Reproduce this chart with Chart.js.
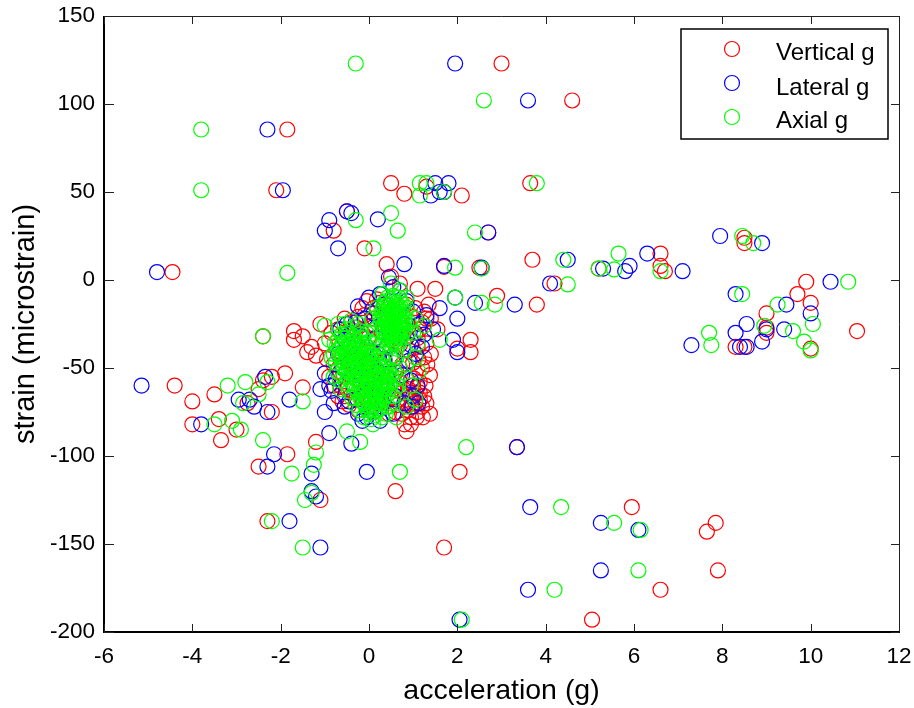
<!DOCTYPE html>
<html><head><meta charset="utf-8">
<style>html,body{margin:0;padding:0;background:#fff}#w{width:914px;height:708px;position:relative}</style>
<script src="https://cdn.jsdelivr.net/npm/chart.js@4"></script>
</head><body><div id="w"><canvas id="c" width="914" height="708"></canvas></div>
<script>
const xTicks=[-6,-4,-2,0,2,4,6,8,10,12];
const yTicks=[150,100,50,0,-50,-100,-150,-200];
const seriesNames=['Vertical g','Lateral g','Axial g'];
const seriesColors=['#ff0000','#0000ff','#00ff00'];
const verticalOuter=[[3,123],[4.6,102],[-1.85,85.5],[0.5,55],[3.65,55],[-2.1,51],[0.8,49],[2.1,48],[1.3,53],[1.7,50],[-0.5,39],[-0.8,28],[-0.1,18],[2.7,27],[2.5,7],[3.7,11.5],[3.8,-14],[2.9,-9],[1.7,7.5],[-4.45,4.5],[0.4,9],[0.5,2],[0.7,-2],[4.2,-2],[5.2,6.5],[6.6,15],[6.6,8],[6.7,5],[8.5,24],[8.5,21],[9.9,-1],[9.7,-8],[9,-19],[10,-13],[10,-39],[9,-27],[11.05,-29],[8.3,-38],[8.5,-38],[9,-30],[-4.4,-60],[-4,-69],[-4,-82],[-3.5,-65],[-3.4,-79],[-3.35,-91],[-3,-85],[-2.75,-70],[-2.4,-32],[-2.5,-62],[-2.4,-57],[-2.2,-75],[-2.2,-55],[-1.9,-53],[-1.85,-99],[-2.5,-106],[-2.3,-137],[-1.5,-61],[-1.7,-29],[-1.7,-34],[-1.5,-32],[-1.4,-41],[-1.3,-38],[-1.2,-43],[-1.1,-25],[-1.2,-92],[-1.1,-125],[0.6,-120],[2.05,-109],[1.7,-152],[3.35,-95],[5.95,-129],[5.05,-193],[6.6,-176],[7.65,-143],[7.85,-138],[7.9,-165],[2,-39],[2.3,-34],[2.3,-41],[1.5,-5],[1.1,-5],[1.35,-14],[1.3,-22],[1.55,-28]];
const verticalCentre=[[-0.9,-55],[-0.8,-60],[-0.7,-66],[-0.6,-69],[-0.5,-62],[-0.45,-71],[-0.3,-68],[-0.25,-74],[0.85,-86],[0.8,-82],[0.95,-78],[1.1,-75],[1.2,-72],[1.15,-68],[1.25,-66],[1.05,-64],[0.9,-62],[0.75,-64],[0.65,-68],[0.55,-62],[0.7,-58],[0.85,-56],[1,-60],[1.15,-58],[1.38,-54],[1.2,-50],[0.95,-72],[0.75,-76],[0.6,-75],[0.45,-76],[1.05,-70],[0.85,-68],[0.65,-71],[0.5,-67],[0.95,-66],[1.1,-61],[0.4,-60],[1.38,-76],[1.08,-78],[0.95,-82],[1.15,-64],[1.02,-56],[0.88,-74],[1.22,-78],[1.3,-70],[1.4,-42],[1.3,-36],[1.1,-38],[1.05,-30],[0.9,-26],[1.2,-24],[1.4,-22],[1.25,-18],[1.05,-16],[0.85,-14],[-0.05,-12],[0.1,-16],[0.25,-13],[-0.1,-20],[-0.25,-21],[-0.4,-24],[-0.55,-22],[-0.7,-28],[-0.85,-30],[-1,-36],[-0.15,-30],[0.05,-26],[0.3,-30],[0.5,-34],[0.7,-37],[0.9,-40],[0.55,-43],[0.35,-46],[0.1,-42],[-0.1,-50],[-0.35,-46],[-0.6,-42],[-0.8,-48],[0.75,-48],[1,-47],[0.15,-58],[-0.1,-63],[-0.2,-57],[0.2,-70],[-0.65,-52],[-0.95,-45],[1.15,-28],[0.98,-21],[1.1,-33],[-0.65,-60],[-0.55,-66],[-0.15,-16],[-0.3,-27],[0.12,-22],[-0.02,-33],[0.18,-11],[1.25,-44],[1.32,-48],[1.12,-45],[0.62,-52],[1.28,-60]];
const lateralOuter=[[1.95,123],[3.6,102],[-2.3,85.5],[-1.95,51],[1.5,55],[1.8,55],[1.4,48],[1.6,50],[1.7,50],[-0.5,39],[-0.4,38],[-0.9,34],[-1,28],[-0.7,18],[0.2,34.5],[2.7,27],[2.55,7],[1.7,8],[1.95,-10],[-4.8,4.5],[0.8,9],[0.45,1.5],[3.3,-14],[4.1,-2],[4.5,11.5],[5.3,6.5],[5.8,5],[5.9,8],[6.3,15],[7.1,5],[7.3,-37],[7.95,25],[8.3,-8],[8.9,21],[8.3,-30],[8.4,-38],[8.55,-38],[8.55,-25],[8.9,-35],[9,-28],[9.4,-28],[9.45,-14],[10,-19],[10.45,-1],[-5.15,-60],[-3.8,-82],[-2.95,-68],[-2.7,-68],[-2.6,-72],[-2.35,-55],[-2.3,-75],[-2.15,-99],[-2.3,-106],[-1.8,-68],[-1.8,-137],[-1.3,-110],[-1.3,-120],[-1.2,-123],[-1.1,-152],[-1,-75],[-0.9,-87],[-0.4,-93],[-0.05,-109],[3.35,-95],[3.65,-129],[3.6,-176],[5.25,-138],[5.25,-165],[6.1,-142],[2.05,-193],[2,-22],[2,-41],[1.6,-16],[1.9,-34],[2.4,-13]];
const lateralCentre=[[-1,-53],[-0.9,-60],[-0.85,-63],[-0.75,-56],[-0.6,-50],[-0.7,-42],[-0.55,-34],[-0.5,-25],[-0.3,-24],[-0.2,-32],[-0.1,-22],[0.1,-19],[0.25,-8],[0.35,-14],[0.55,-4],[0.7,-6],[0.85,-12],[1,-18],[1.15,-25],[1.25,-31],[1.2,-38],[1.05,-42],[0.9,-46],[0.75,-54],[0.95,-57],[1.1,-60],[0.6,-66],[0.4,-62],[0.3,-70],[0.1,-75],[-0.05,-78],[-0.15,-80],[-0.25,-76],[-0.45,-69],[-0.55,-72],[-0.35,-60],[-0.15,-55],[0,-47],[0.2,-42],[0.4,-38],[0.6,-32],[0.15,-33],[-0.05,-38],[-0.3,-42],[-0.45,-47],[0.55,-45],[0.7,-27],[0.85,-33],[-0.8,-70],[0.8,-70],[0.25,-80],[0.4,-55],[0.05,-62],[0.95,-37],[1.3,-20],[1.45,-28],[0.3,-25],[0.5,-18],[-0.25,-15],[0,-10],[-1.1,-62],[-0.65,-28],[-0.4,-30],[0.2,-52],[-0.1,-66],[0.55,-76],[0.05,-72],[0.18,-66],[-0.02,-56],[0.28,-60],[-0.28,-50],[-0.42,-38],[0.45,-28],[0.62,-20],[0.35,-45],[1,-66],[1.12,-70],[0.98,-72]];
const axialOuter=[[-0.3,123],[2.6,102],[-3.8,85.5],[-3.8,51],[1.15,55],[1.3,55],[3.8,55],[1.15,48],[1.7,50],[0.5,38],[0.1,18],[0.65,28],[-0.3,34],[2.4,27],[2.55,6.5],[-1.85,4],[1.95,7],[1.95,-10],[2.55,-13],[2.85,-14],[4.4,11.5],[4.5,-2.5],[5.2,6.5],[5.55,6],[5.65,15],[6.6,5],[8.45,25],[8.7,21],[8.45,-8],[7.7,-30],[7.75,-37],[9.25,-14],[9.85,-35],[10,-40],[10.05,-25],[10.85,-1],[9.6,-29],[8.95,-26],[-3.2,-60],[-3.5,-82],[-3.1,-80],[-2.9,-85],[-2.8,-58],[-2.85,-70],[-2.5,-65],[-2.3,-58],[-2.4,-32],[-2.4,-91],[-2.2,-137],[-1.75,-110],[-1.5,-152],[-1.45,-125],[-1.3,-121],[-1.25,-105],[-1.2,-98],[-1.5,-69],[-0.5,-86],[-0.2,-92],[0.7,-109],[2.2,-95],[4.35,-129],[4.2,-176],[5.55,-138],[6.1,-165],[6.15,-142],[2.1,-193],[1.6,-34],[1.1,-36],[1.05,-22],[1.25,-26],[1,-30],[-1,-26],[-0.9,-34],[-0.85,-44],[-0.8,-55],[-0.65,-62],[-0.7,-25],[1.05,-44],[1.12,-52],[0.95,-60],[1.05,-68],[0.85,-72],[0.85,-48],[0.62,-78],[0.78,-40],[0.7,-6],[0.5,-2],[0.85,-10],[0.3,-8]];
const axialRightLobe=[[0.38,-12],[0.5,-11],[0.62,-13],[0.72,-12],[0.32,-15],[0.44,-14],[0.56,-16],[0.66,-15],[0.78,-14],[0.28,-18],[0.4,-17],[0.52,-19],[0.6,-18],[0.7,-17],[0.82,-19],[0.25,-21],[0.36,-20],[0.47,-22],[0.58,-21],[0.68,-20],[0.8,-22],[0.27,-24],[0.38,-23],[0.5,-25],[0.6,-24],[0.72,-23],[0.84,-25],[0.3,-27],[0.42,-26],[0.54,-28],[0.64,-27],[0.76,-26],[0.33,-30],[0.45,-29],[0.55,-31],[0.67,-30],[0.78,-29],[0.36,-33],[0.48,-32],[0.6,-34],[0.72,-33],[0.42,-36],[0.55,-35],[0.66,-37],[0.42,-10],[0.55,-9],[0.68,-10],[0.35,-13],[0.48,-16],[0.6,-15],[0.74,-16],[0.31,-19],[0.43,-20],[0.55,-18],[0.65,-19],[0.76,-20],[0.3,-22],[0.42,-23],[0.53,-23],[0.64,-22],[0.75,-24],[0.33,-25],[0.46,-27],[0.57,-26],[0.7,-25],[0.82,-28],[0.36,-28],[0.5,-30],[0.62,-29],[0.72,-28],[0.4,-31],[0.52,-33],[0.65,-32],[0.75,-31],[0.45,-34],[0.58,-36],[0.7,-35],[0.5,-38],[0.62,-39]];
const axialLeftLobe=[[-0.5,-28],[-0.35,-27],[-0.2,-29],[-0.62,-31],[-0.48,-30],[-0.34,-32],[-0.2,-31],[-0.06,-30],[-0.7,-34],[-0.55,-33],[-0.42,-35],[-0.28,-34],[-0.14,-33],[0,-35],[-0.72,-37],[-0.6,-36],[-0.46,-38],[-0.32,-37],[-0.18,-36],[-0.04,-38],[-0.7,-40],[-0.56,-39],[-0.42,-41],[-0.3,-40],[-0.16,-39],[0,-41],[-0.68,-43],[-0.52,-42],[-0.4,-44],[-0.25,-43],[-0.1,-42],[0.04,-44],[-0.62,-46],[-0.5,-45],[-0.36,-47],[-0.22,-46],[-0.08,-45],[0.08,-47],[0.2,-46],[-0.58,-49],[-0.44,-48],[-0.3,-50],[-0.16,-49],[-0.02,-48],[-0.65,-38],[-0.52,-36],[-0.38,-33],[-0.24,-37],[-0.1,-36],[-0.63,-42],[-0.47,-41],[-0.35,-39],[-0.2,-42],[-0.05,-40],[-0.6,-44],[-0.45,-44],[-0.3,-45],[-0.15,-45],[-0.02,-44],[0.12,-43],[-0.55,-47],[-0.4,-49],[-0.26,-48],[-0.12,-47],[0.03,-49],[0.15,-41]];
const axialBottom=[[0.12,-49],[0.26,-48],[0.4,-50],[-0.52,-52],[-0.38,-51],[-0.24,-53],[-0.1,-52],[0.04,-51],[0.18,-53],[0.32,-52],[0.46,-51],[-0.46,-55],[-0.32,-54],[-0.18,-56],[-0.04,-55],[0.1,-54],[0.24,-56],[0.38,-55],[0.5,-54],[-0.4,-58],[-0.26,-57],[-0.12,-59],[0.02,-58],[0.16,-57],[0.3,-59],[0.42,-58],[0.54,-57],[-0.32,-61],[-0.18,-60],[-0.04,-62],[0.1,-61],[0.24,-60],[0.36,-62],[0.48,-61],[-0.26,-64],[-0.12,-63],[0.02,-65],[0.16,-64],[0.3,-63],[0.42,-65],[-0.2,-67],[-0.06,-66],[0.08,-68],[0.22,-67],[0.36,-66],[-0.12,-70],[0.02,-69],[0.14,-71],[0.28,-70],[-0.06,-73],[0.08,-72],[0.2,-74],[0,-76],[0.12,-75],[0.05,-79],[0.32,-46],[0.05,-53],[0.2,-51],[0.35,-49],[-0.45,-52],[-0.3,-56],[-0.15,-54],[0,-57],[0.14,-56],[0.28,-54],[0.44,-55],[-0.35,-59],[-0.22,-61],[-0.08,-57],[0.07,-60],[0.2,-62],[0.33,-57],[0.47,-59],[-0.28,-62],[-0.14,-65],[0,-60],[0.13,-66],[0.26,-65],[0.39,-60],[-0.16,-69],[-0.02,-67],[0.11,-63],[0.24,-69],[0.32,-68],[-0.08,-71],[0.05,-74],[0.17,-69],[0.25,-73],[-0.02,-74],[0.14,-77],[0.09,-82]];
const axialWider=[[-0.75,-47],[-0.8,-42],[-0.78,-36],[-0.72,-52],[-0.66,-57],[-0.58,-55],[-0.52,-59],[-0.45,-63],[-0.38,-67],[-0.3,-71],[-0.22,-74],[-0.12,-78],[0.58,-52],[0.63,-56],[0.6,-62],[0.55,-66],[0.52,-70],[0.44,-72],[0.38,-76],[0.3,-78],[0.66,-60],[0.7,-50],[0.62,-44],[0.48,-44],[0.36,-42],[0.1,-36],[0.15,-28],[0.08,-22],[0.18,-16],[-0.55,-25],[-0.4,-23],[-0.25,-25],[0.88,-30],[0.9,-24],[0.86,-16],[0.2,-38],[0.3,-37]];
const verticalPts=verticalOuter.concat(verticalCentre);
const lateralPts=lateralOuter.concat(lateralCentre);
const axialPts=axialOuter.concat(axialRightLobe,axialLeftLobe,axialBottom,axialWider);
const toPts=a=>a.map(p=>({x:p[0],y:p[1]}));
const allSeries=[verticalPts,lateralPts,axialPts];
const FONT='"Liberation Sans", Arial, sans-serif';
const frame={id:'frame',afterDraw(ch){
 const {ctx,chartArea:a,scales:{x,y}}=ch;ctx.save();
 ctx.strokeStyle='#222';ctx.lineWidth=1;ctx.beginPath();
 ctx.moveTo(a.left,a.top+.5);ctx.lineTo(a.right+.5,a.top+.5);ctx.lineTo(a.right+.5,a.bottom);ctx.stroke();
 ctx.strokeStyle='#000';ctx.lineWidth=2;ctx.beginPath();ctx.moveTo(a.left,a.top);ctx.lineTo(a.left,a.bottom);ctx.lineTo(a.right+1,a.bottom);ctx.stroke();
 ctx.strokeStyle='#222';ctx.lineWidth=1;ctx.beginPath();
 xTicks.forEach(t=>{const p=Math.round(x.getPixelForValue(t))+.5;ctx.moveTo(p,a.bottom);ctx.lineTo(p,a.bottom-8);ctx.moveTo(p,a.top);ctx.lineTo(p,a.top+8);});
 yTicks.forEach(t=>{const p=Math.round(y.getPixelForValue(t))+.5;ctx.moveTo(a.left,p);ctx.lineTo(a.left+10,p);ctx.moveTo(a.right,p);ctx.lineTo(a.right-8,p);});
 ctx.stroke();
 const L=681,T=29,R=888,B=139;
 ctx.fillStyle='#fff';ctx.fillRect(L,T,R-L,B-T);
 ctx.strokeStyle='#000';ctx.lineWidth=1.5;ctx.strokeRect(L,T,R-L,B-T);
 ctx.font='24px '+FONT;ctx.textBaseline='alphabetic';ctx.textAlign='left';
 const my=[49,83,117],ty=[60,95,128];
 ch.data.datasets.forEach((d,i)=>{
  ctx.strokeStyle=d.borderColor;ctx.lineWidth=1.2;ctx.beginPath();ctx.arc(732,my[i],7.5,0,Math.PI*2);ctx.stroke();
  ctx.fillStyle='#000';ctx.fillText(d.label,776,ty[i]);
 });
 ctx.restore();
}};
new Chart(document.getElementById('c'),{
 type:'scatter',
 data:{datasets:allSeries.map((s,i)=>({label:seriesNames[i],data:toPts(s),borderColor:seriesColors[i],backgroundColor:'rgba(0,0,0,0)',borderWidth:1.2,pointRadius:7.5,pointHoverRadius:7.5,pointStyle:'circle',order:3-i}))},
 options:{responsive:false,animation:false,
  layout:{padding:{top:16,right:15,left:0,bottom:0}},
  plugins:{legend:{display:false},tooltip:{enabled:false}},
  scales:{
   x:{type:'linear',min:-6,max:12,afterBuildTicks(s){s.ticks=xTicks.map(v=>({value:v}))},
    grid:{display:false},border:{display:false},
    ticks:{color:'#000',font:{family:FONT,size:22.5},maxRotation:0,autoSkip:false,padding:3},
    title:{display:true,text:'acceleration (g)',color:'#000',font:{family:FONT,size:28.5},padding:{top:2,bottom:0}},
    afterFit(s){s.height=76;s.paddingRight=0;s.paddingLeft=0}},
   y:{type:'linear',min:-200,max:150,afterBuildTicks(s){s.ticks=yTicks.map(v=>({value:v}))},
    grid:{display:false},border:{display:false},
    ticks:{color:'#000',font:{family:FONT,size:22.5},autoSkip:false,padding:1},
    title:{display:true,text:'strain (microstrain)',color:'#000',font:{family:FONT,size:29},padding:{top:9,bottom:0}},
    afterFit(s){s.width=104;s.paddingTop=0;s.paddingBottom=0}}
  }
 },
 plugins:[frame]
});
</script></body></html>
